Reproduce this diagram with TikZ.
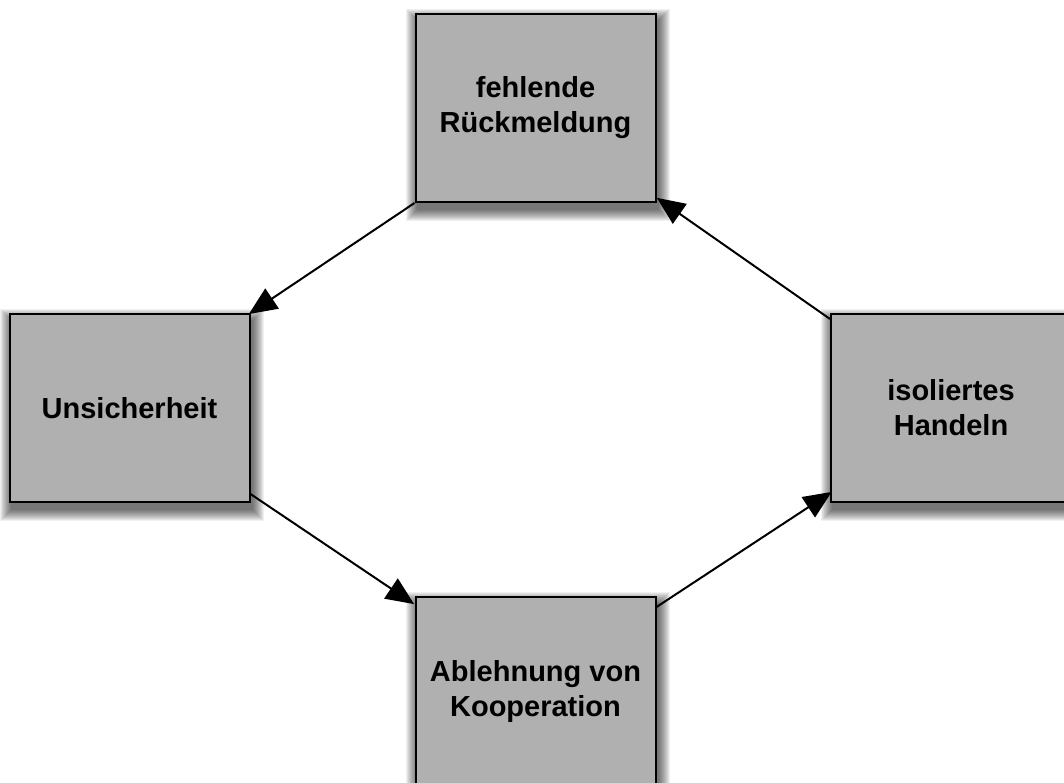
\documentclass[tikz,border=0pt]{standalone}
\usepackage{fontspec}
\setmainfont{Liberation Sans}
\usetikzlibrary{arrows.meta,calc,backgrounds}
\definecolor{boxgray}{RGB}{176,176,176}
\tikzset{
  stagebox/.style={draw=black, line width=2pt, fill=boxgray, minimum width=240pt, minimum height=188pt,
    inner sep=0pt, align=center, font=\fontsize{29}{35}\selectfont\bfseries},
  shadowlayer/.style={fill=black, fill opacity=0.06, draw=none},
  flow/.style={line width=2pt, -{Triangle[length=28pt,width=24pt]}, shorten >=-2pt}
}
\begin{document}
\begin{tikzpicture}[x=1pt,y=-1pt]
\useasboundingbox (0,0) rectangle (1064,783);
\node[stagebox] (top) at (535.5,108) {fehlende\\Rückmeldung};
\node[stagebox] (left) at (129.5,408) {Unsicherheit};
\node[stagebox] (right) at (951,408) {isoliertes\\Handeln};
\node[stagebox] (bottom) at (535.5,691) {Ablehnung von\\Kooperation};
\begin{scope}[on background layer]
  \fill[white] (0,0) rectangle (1064,783);
  \foreach \n in {top,left,right,bottom}{
    \foreach \k in {1,...,12}{
      \fill[shadowlayer] ($(\n.north west)+(2-\k+1,7-\k+1)$) rectangle ($(\n.south east)+(2+\k-1,7+\k-1)$);
    }
  }
\end{scope}
\draw[flow] (top.south west) -- (left.north east);
\draw[flow] ($(left.south east)+(0,-9)$) -- ($(bottom.north west)+(-2,7)$);
\draw[flow] ($(bottom.north east)+(0,11)$) -- ($(right.south west)+(0,-10)$);
\draw[flow] ($(right.north west)+(0,6)$) -- ($(top.south east)+(2,-4)$);
\end{tikzpicture}
\end{document}
